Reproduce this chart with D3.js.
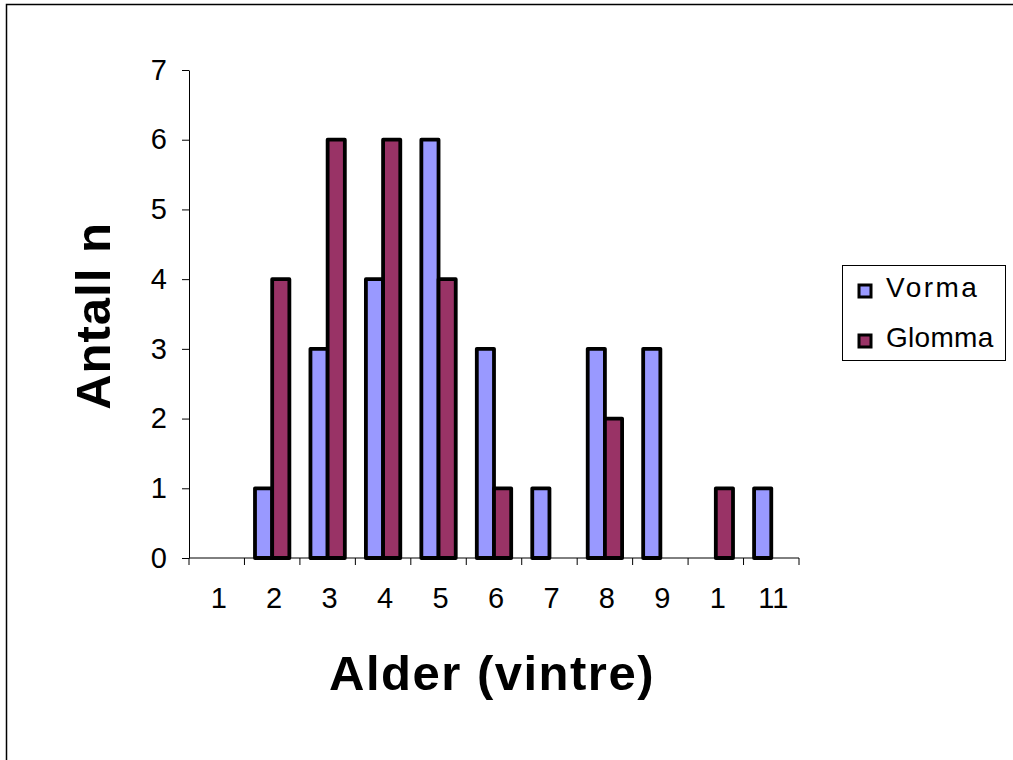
<!DOCTYPE html>
<html>
<head>
<meta charset="utf-8">
<script src="https://cdn.jsdelivr.net/npm/d3@7"></script>
<style>
    body { margin: 0; background: #fff; overflow: hidden; }
    svg { display: block; font-family: "Liberation Sans", Arial, sans-serif; }
</style>
</head>
<body>
<div id="chart"></div>
<script>
// Age classes as printed on the axis (the tenth one is shown as "1")
const ageLabels = ["1", "2", "3", "4", "5", "6", "7", "8", "9", "1", "11"];
const vorma = [0, 1, 3, 4, 6, 3, 1, 3, 3, 0, 1];
const glomma = [0, 4, 6, 6, 4, 1, 0, 2, 0, 1, 0];
const seriesNames = ["Vorma", "Glomma"];
const yTicks = [0, 1, 2, 3, 4, 5, 6, 7];

const width = 1013, height = 760;
const margin = {top: 70, right: 214, bottom: 202, left: 189};
const font = "Liberation Sans, Arial, sans-serif";

const svg = d3.select("#chart")
    .append("svg")
    .attr("width", width)
    .attr("height", height);

// outer chart frame: only its left and top edges are inside the picture
svg.append("path")
    .attr("d", `M6.5,${height} V4.5 H${width}`)
    .attr("fill", "none")
    .attr("stroke", "#000")
    .attr("stroke-width", 1.5);

const colors = d3.scaleOrdinal().domain(seriesNames).range(["#9999FF", "#993366"]);

const x0 = d3.scaleBand()
    .domain(d3.range(ageLabels.length))
    .range([margin.left, width - margin.right]);

const x1 = d3.scaleBand()
    .domain(seriesNames)
    .range([x0.bandwidth() * 0.19, x0.bandwidth() * 0.81]);

const y = d3.scaleLinear()
    .domain([0, 7])
    .range([height - margin.bottom, margin.top]);

const data = ageLabels.map((lab, i) => ({
    i,
    values: [{key: "Vorma", value: vorma[i]}, {key: "Glomma", value: glomma[i]}]
}));

// y axis
const yAxis = svg.append("g")
    .attr("transform", `translate(${margin.left},0)`)
    .call(d3.axisLeft(y).tickValues(yTicks).tickFormat(d3.format("d"))
        .tickSize(7).tickSizeOuter(0).tickPadding(15));
yAxis.selectAll("line, path").attr("stroke", "#000").attr("stroke-width", 1);
yAxis.selectAll("text")
    .attr("font-size", 29)
    .attr("font-family", font)
    .attr("fill", "#000");

// x axis: ticks at band boundaries, labels centred
const xAxisG = svg.append("g")
    .attr("transform", `translate(0,${y(0)})`);
xAxisG.append("line")
    .attr("x1", margin.left).attr("x2", width - margin.right)
    .attr("stroke", "#000");
const boundaries = d3.range(ageLabels.length + 1).map(i =>
    i < ageLabels.length ? x0(i) : x0(ageLabels.length - 1) + x0.bandwidth());
xAxisG.selectAll(".tk")
    .data(boundaries)
    .join("line")
    .attr("x1", d => d).attr("x2", d => d)
    .attr("y1", 0).attr("y2", 7)
    .attr("stroke", "#000");
xAxisG.selectAll("text")
    .data(ageLabels)
    .join("text")
    .attr("x", (d, i) => x0(i) + x0.bandwidth() / 2 + 2)
    .attr("y", 50)
    .attr("text-anchor", "middle")
    .attr("font-size", 29)
    .text(d => d);

// bars
svg.append("g")
    .selectAll("g")
    .data(data)
    .join("g")
    .attr("transform", d => `translate(${x0(d.i)},0)`)
    .selectAll("rect")
    .data(d => d.values.filter(v => v.value > 0))
    .join("rect")
    .attr("x", d => x1(d.key))
    .attr("y", d => y(d.value))
    .attr("width", x1.bandwidth())
    .attr("height", d => y(0) - y(d.value))
    .attr("fill", d => colors(d.key))
    .attr("stroke", "#000")
    .attr("stroke-width", 3.8)
    .attr("stroke-linejoin", "round");

// axis titles
svg.append("text")
    .attr("x", 492)
    .attr("y", 690)
    .attr("text-anchor", "middle")
    .attr("font-size", 49)
    .attr("font-weight", "bold")
    .attr("letter-spacing", 1.5)
    .text("Alder (vintre)");

svg.append("text")
    .attr("transform", `translate(110,316) rotate(-90)`)
    .attr("text-anchor", "middle")
    .attr("font-size", 49)
    .attr("font-weight", "bold")
    .attr("letter-spacing", 1)
    .text("Antall n");

// legend
const legend = svg.append("g").attr("transform", "translate(842,265)");
legend.append("rect")
    .attr("x", 0.5).attr("y", 0.5)
    .attr("width", 163).attr("height", 95)
    .attr("fill", "#fff")
    .attr("stroke", "#000")
    .attr("stroke-width", 1);
const item = legend.selectAll(".item")
    .data(seriesNames)
    .join("g")
    .attr("transform", (d, i) => `translate(0,${26 + i * 50})`);
item.append("rect")
    .attr("x", 17).attr("y", -6)
    .attr("width", 12).attr("height", 12)
    .attr("fill", d => colors(d))
    .attr("stroke", "#000")
    .attr("stroke-width", 3);
item.append("text")
    .attr("x", 44)
    .attr("y", 6)
    .attr("font-size", 28)
    .attr("letter-spacing", (d, i) => i === 0 ? 2.5 : 0.3)
    .text(d => d);
</script>
</body>
</html>
